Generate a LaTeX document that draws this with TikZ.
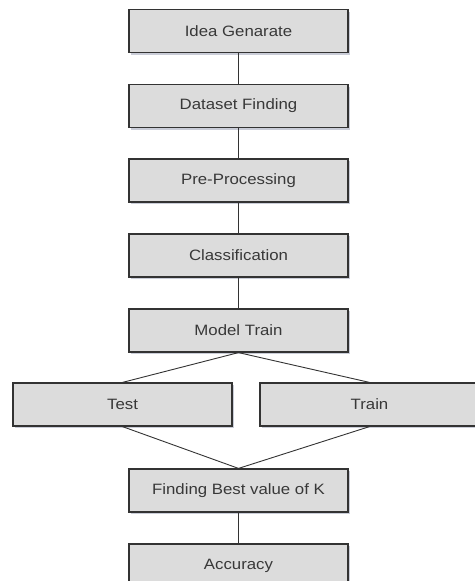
\documentclass[tikz,border=0pt]{standalone}
\usepackage{fontspec}
\setmainfont[FakeStretch=1.12]{Liberation Sans}
\usetikzlibrary{shadows}
\definecolor{grisCaja}{HTML}{DCDCDC}
\definecolor{grisBorde}{HTML}{333333}
\definecolor{grisTexto}{HTML}{383838}
\definecolor{sombraAz}{HTML}{B4B8C8}

\begin{document}
\begin{tikzpicture}[x=1pt,y=-1pt,
    paso/.style={draw=grisBorde,line width=1.2pt,fill=grisCaja,
      minimum width=219pt,minimum height=43pt,inner sep=0pt,
      text=grisTexto,font=\fontsize{15pt}{18pt}\selectfont,
      drop shadow={shadow xshift=1.5pt,shadow yshift=-2pt,fill=sombraAz,opacity=0.7}},
    enlace/.style={draw=grisBorde,line width=0.9pt}]
  \useasboundingbox (0,0) rectangle (474,581);
  \node[paso] (idea)     at (238.5,31)    {Idea Genarate};
  \node[paso] (dataset)  at (238.5,106)   {Dataset Finding};
  \node[paso] (preproc)  at (238.5,180.5) {Pre-Processing};
  \node[paso] (classif)  at (238.5,255.5) {Classification};
  \node[paso] (model)    at (238.5,330.5) {Model Train};
  \node[paso] (test)     at (122.5,404.5) {Test};
  \node[paso] (train)    at (369.5,404.5) {Train};
  \node[paso] (bestk)    at (238.5,490.5) {Finding Best value of K};
  \node[paso] (accuracy) at (238.5,565.5) {Accuracy};
  \draw[enlace] (idea) -- (dataset);
  \draw[enlace] (dataset) -- (preproc);
  \draw[enlace] (preproc) -- (classif);
  \draw[enlace] (classif) -- (model);
  \draw[enlace] (model.south) -- (test.north);
  \draw[enlace] (model.south) -- (train.north);
  \draw[enlace] (test.south) -- (bestk.north);
  \draw[enlace] (train.south) -- (bestk.north);
  \draw[enlace] (bestk) -- (accuracy);
\end{tikzpicture}
\end{document}
